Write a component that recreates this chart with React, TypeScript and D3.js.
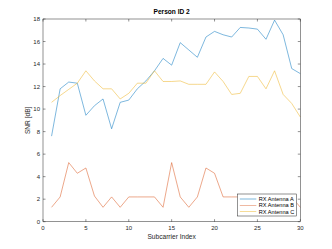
import React from 'react';
import * as d3 from 'd3';

const subcarriers = d3.range(1, 31);
const antennaA = [7.6, 11.8, 12.4, 12.3, 9.45, 10.3, 10.9, 8.25, 10.6, 10.8, 11.8, 12.5, 13.4, 14.5, 13.9, 15.9, 15.25, 14.6, 16.4, 16.9, 16.6, 16.4, 17.25, 17.2, 17.1, 16.2, 17.9, 16.6, 13.6, 13.15];
const antennaB = [1.28, 2.2, 5.25, 4.3, 4.77, 2.28, 1.28, 2.2, 1.28, 2.2, 2.2, 2.2, 2.2, 1.28, 5.25, 2.2, 1.28, 2.2, 4.77, 4.3, 2.2, 2.2, 2.2, 2.2, 2.2, 2.2, 2.2, 2.2, 2.2, 1.28];
const antennaC = [10.6, 11.2, 11.75, 12.3, 13.4, 12.5, 11.8, 11.8, 10.9, 11.4, 12.3, 12.3, 13.4, 12.45, 12.45, 12.5, 12.2, 12.2, 12.2, 13.3, 12.45, 11.3, 11.4, 12.9, 12.9, 11.8, 13.4, 11.3, 10.5, 9.3];
const xTicks = [0, 5, 10, 15, 20, 25, 30];
const yTicks = [0, 2, 4, 6, 8, 10, 12, 14, 16, 18];
const seriesNames = ['RX Antenna A', 'RX Antenna B', 'RX Antenna C'];
const seriesColors = ['#0072BD', '#D95319', '#EDB120'];

export default function App() {
  const width = 332;
  const height = 249;
  const margin = { top: 19, right: 31.7, bottom: 27.3, left: 43 };
  const font = 'Helvetica, Arial, "Liberation Sans", sans-serif';
  const axisColor = '#262626';

  const x = d3.scaleLinear().domain([0, 30]).range([margin.left, width - margin.right]);
  const y = d3.scaleLinear().domain([0, 18]).range([height - margin.bottom, margin.top]);

  const line = d3
    .line<number>()
    .x((d, i) => x(subcarriers[i]))
    .y((d) => y(d));

  const allSeries = [antennaA, antennaB, antennaC];
  const x0 = margin.left;
  const x1 = width - margin.right;
  const y0 = height - margin.bottom;
  const y1 = margin.top;
  const tick = 2.5;

  const lgX = 237.3;
  const lgY = 194;
  const lgW = 59.4;
  const lgH = 22;

  return (
    <svg width={width} height={height} style={{ position: 'absolute', left: 0, top: 0, background: '#fff' }}>
      <rect x={0} y={0} width={width} height={height} fill="#fff" />
      <rect x={x0} y={y1} width={x1 - x0} height={y0 - y1} fill="#fff" />

      {allSeries.map((s, i) => (
        <path key={i} d={line(s) || ''} fill="none" stroke={seriesColors[i]} strokeWidth={0.6} opacity={0.85} />
      ))}

      <rect x={x0} y={y1} width={x1 - x0} height={y0 - y1} fill="none" stroke={axisColor} strokeWidth={0.5} />

      {xTicks.map((t) => (
        <g key={'x' + t}>
          <line x1={x(t)} x2={x(t)} y1={y0} y2={y0 - tick} stroke={axisColor} strokeWidth={0.5} />
          <line x1={x(t)} x2={x(t)} y1={y1} y2={y1 + tick} stroke={axisColor} strokeWidth={0.5} />
          <text x={x(t)} y={y0 + 8.5} fontSize={6} fontFamily={font} fill={axisColor} textAnchor="middle">
            {t}
          </text>
        </g>
      ))}
      {yTicks.map((t) => (
        <g key={'y' + t}>
          <line x1={x0} x2={x0 + tick} y1={y(t)} y2={y(t)} stroke={axisColor} strokeWidth={0.5} />
          <line x1={x1} x2={x1 - tick} y1={y(t)} y2={y(t)} stroke={axisColor} strokeWidth={0.5} />
          <text x={x0 - 3} y={y(t) + 2} fontSize={6} fontFamily={font} fill={axisColor} textAnchor="end">
            {t}
          </text>
        </g>
      ))}

      <text x={(x0 + x1) / 2} y={14} fontSize={6.6} fontWeight="bold" fontFamily={font} fill="#000" textAnchor="middle">
        Person ID 2
      </text>
      <text x={(x0 + x1) / 2} y={238.5} fontSize={6.6} fontFamily={font} fill={axisColor} textAnchor="middle">
        Subcarrier Index
      </text>
      <text
        transform={`translate(30,${(y0 + y1) / 2}) rotate(-90)`}
        fontSize={6.6}
        fontFamily={font}
        fill={axisColor}
        textAnchor="middle"
      >
        SNR [dB]
      </text>

      <rect x={lgX} y={lgY} width={lgW} height={lgH} fill="#fff" stroke={axisColor} strokeWidth={0.5} />
      {seriesNames.map((n, i) => (
        <g key={n}>
          <line x1={lgX + 2.5} x2={lgX + 19} y1={lgY + 5 + i * 6.3} y2={lgY + 5 + i * 6.3} stroke={seriesColors[i]} strokeWidth={0.6} opacity={0.85} />
          <text x={lgX + 21.5} y={lgY + 7 + i * 6.3} fontSize={5.6} fontFamily={font} fill="#000">
            {n}
          </text>
        </g>
      ))}
    </svg>
  );
}
